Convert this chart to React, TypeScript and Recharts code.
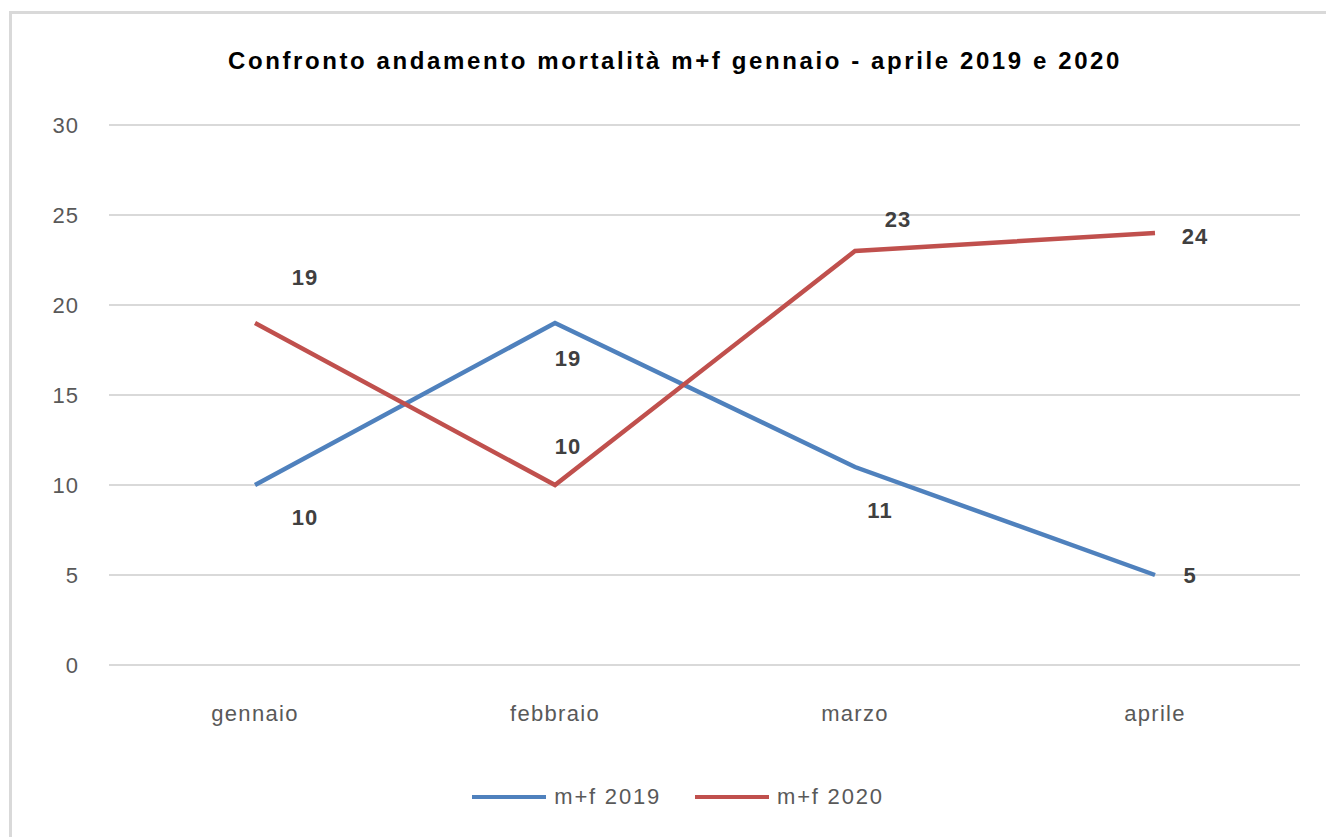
import React from "react";
import { LineChart, Line, XAxis, YAxis, CartesianGrid, LabelList } from "recharts";

const mesi = ["gennaio", "febbraio", "marzo", "aprile"];
const mf2019 = [10, 19, 11, 5];
const mf2020 = [19, 10, 23, 24];
const yTicks = [0, 5, 10, 15, 20, 25, 30];

const data = mesi.map((m, i) => ({ name: m, "m+f 2019": mf2019[i], "m+f 2020": mf2020[i] }));

// label offsets (px) relative to each point, as in the original sheet
const off2019 = [[50, 32], [13, 35], [25, 43], [35, 0]];
const off2020 = [[50, -46], [13, -39], [43, -32], [40, 3]];

const FONT = "'Liberation Sans', Arial, sans-serif";

const makeLabel = (offs: number[][]) => (props: any) => {
  const { x, y, value, index } = props;
  const o = offs[index] || [0, 0];
  return (
    <text
      x={x + o[0]}
      y={y + o[1]}
      textAnchor="middle"
      dominantBaseline="central"
      fontFamily={FONT}
      fontWeight="bold"
      fontSize={22}
      letterSpacing={1}
      fill="#404040"
    >
      {value}
    </text>
  );
};

const XTick = (props: any) => {
  const { x, y, payload } = props;
  return (
    <text x={x} y={y + 48} textAnchor="middle" fontFamily={FONT} fontSize={22} letterSpacing={1.3} fill="#595959">
      {payload.value}
    </text>
  );
};

const YTick = (props: any) => {
  const { x, y, payload } = props;
  return (
    <text x={x - 22} y={y} textAnchor="end" dominantBaseline="central" fontFamily={FONT} fontSize={22} letterSpacing={1} fill="#595959">
      {payload.value}
    </text>
  );
};

export default function App() {
  return (
    <div style={{ position: "absolute", left: 0, top: 0, width: 1326, height: 837, background: "#fff", overflow: "hidden" }}>
      <div
        style={{
          position: "absolute",
          left: 9,
          top: 11,
          width: 1330,
          height: 840,
          border: "3px solid #d9d9d9",
          boxSizing: "border-box",
        }}
      />
      <div
        style={{
          position: "absolute",
          left: 0,
          top: 47,
          width: 1350,
          textAlign: "center",
          fontFamily: FONT,
          fontWeight: "bold",
          fontSize: 24,
          color: "#000",
          letterSpacing: 2.6,
        }}
      >
        Confronto andamento mortalità m+f gennaio - aprile 2019 e 2020
      </div>
      <LineChart width={1326} height={837} data={data} margin={{ top: 125, right: 26, bottom: 142, left: 0 }}>
        <CartesianGrid vertical={false} stroke="#d9d9d9" strokeWidth={2} />
        <XAxis dataKey="name" height={30} axisLine={false} tickLine={false} tick={<XTick />} padding={{ left: 146, right: 145 }} />
        <YAxis width={109} domain={[0, 30]} ticks={yTicks} axisLine={false} tickLine={false} tick={<YTick />} />
        <Line dataKey="m+f 2019" stroke="#4f81bd" strokeWidth={4.5} dot={false} isAnimationActive={false}>
          <LabelList dataKey="m+f 2019" content={makeLabel(off2019)} />
        </Line>
        <Line dataKey="m+f 2020" stroke="#c0504d" strokeWidth={4.5} dot={false} isAnimationActive={false}>
          <LabelList dataKey="m+f 2020" content={makeLabel(off2020)} />
        </Line>
      </LineChart>
      <div
        style={{
          position: "absolute",
          left: 0,
          top: 784,
          width: 1356,
          display: "flex",
          justifyContent: "center",
          alignItems: "center",
          fontFamily: FONT,
          fontSize: 22,
          letterSpacing: 1.8,
          color: "#595959",
        }}
      >
        <span style={{ display: "inline-block", width: 74, height: 4, background: "#4f81bd", marginRight: 8 }} />
        <span style={{ marginRight: 34 }}>m+f 2019</span>
        <span style={{ display: "inline-block", width: 74, height: 4, background: "#c0504d", marginRight: 8 }} />
        <span>m+f 2020</span>
      </div>
    </div>
  );
}
